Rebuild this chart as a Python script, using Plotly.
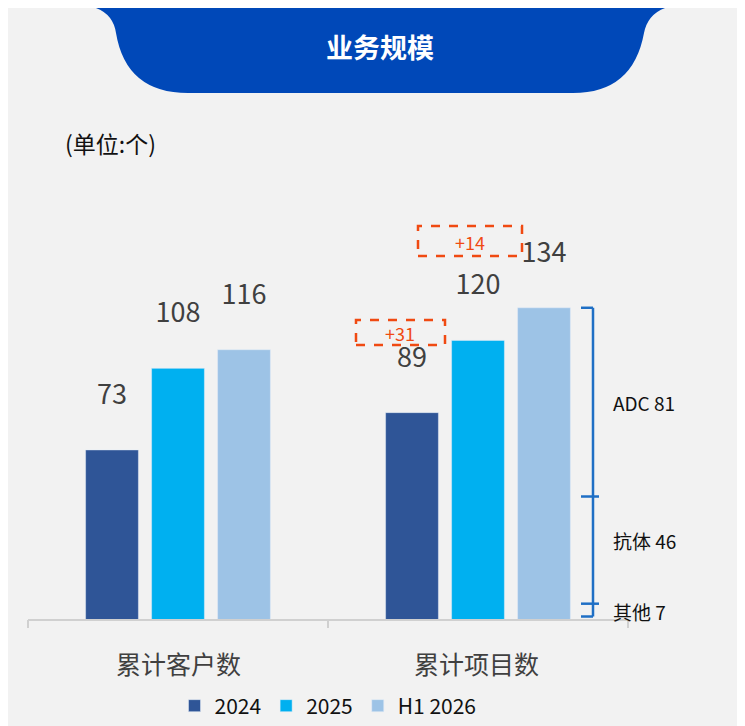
import plotly.graph_objects as go

categories = ["累计客户数", "累计项目数"]
series_names = ["2024", "2025", "H1 2026"]
series_values = [[73, 89], [108, 120], [116, 134]]
colors = ["#2f5597", "#00b0f0", "#9dc3e6"]
split_labels = ["ADC 81", "抗体 46", "其他 7"]
split_values = [81, 46, 7]
growth_labels = ["+31", "+14"]

W, H = 745, 726
L, R, T, B = 20, 125, 150, 114
PW, PH = W - L - R, H - T - B

def px(x):
    return (x - L) / PW

def py(y):
    return (H - B - y) / PH

fig = go.Figure()
for name, vals, c in zip(series_names, series_values, colors):
    fig.add_trace(go.Bar(
        x=categories, y=vals, name=name, marker_color=c,
        text=[f"{v}<br> " for v in vals], textposition="outside", cliponaxis=False,
        textfont=dict(size=27, color="#404040"),
    ))

shapes = []
# banner
banner = (f"M {px(85)},{py(-12)} L {px(85)},{py(-1)} Q {px(105)},{py(5)} {px(108)},{py(25)} "
          f"Q {px(118)},{py(85)} {px(180)},{py(85)} L {px(565)},{py(85)} "
          f"Q {px(625)},{py(85)} {px(636)},{py(25)} Q {px(640)},{py(5)} {px(660)},{py(-1)} "
          f"L {px(660)},{py(-12)} Z")
shapes.append(dict(type="path", xref="paper", yref="paper", path=banner, layer="below",
                   line=dict(width=0), fillcolor="#0048b8"))

# braces for project split
bx = px(585)
bounds = [134]
for v in split_values:
    bounds.append(bounds[-1] - v)
blue = "#1f6fc5"
shapes.append(dict(type="line", xref="paper", yref="y", x0=bx, x1=bx,
                   y0=bounds[0], y1=bounds[-1] + 1.5, line=dict(color=blue, width=2.5)))
for k, b in enumerate(bounds):
    yb = b + 1.5 if k == len(bounds) - 1 else b
    shapes.append(dict(type="line", xref="paper", yref="y", x0=bx - 0.02, x1=bx,
                       y0=yb, y1=yb, line=dict(color=blue, width=2.5)))
    if 0 < k < len(bounds) - 1:
        shapes.append(dict(type="line", xref="paper", yref="y", x0=bx, x1=bx + 0.01,
                           y0=b, y1=b, line=dict(color=blue, width=2.5)))

# dashed growth boxes
for (x0, y0, x1, y1) in [(348, 312, 437, 337), (410, 218, 514, 248)]:
    shapes.append(dict(type="rect", xref="paper", yref="paper",
                       x0=px(x0), x1=px(x1), y0=py(y1), y1=py(y0),
                       line=dict(color="#f04a12", width=2.5, dash="dash")))

# baseline and ticks
shapes.append(dict(type="line", xref="paper", yref="paper", x0=0, x1=1, y0=0, y1=0,
                   line=dict(color="#d0d0d0", width=2)))
for t in [0, 0.5, 1]:
    shapes.append(dict(type="line", xref="paper", yref="paper", x0=t, x1=t, y0=0,
                       y1=py(620), line=dict(color="#d0d0d0", width=2)))

ann = [
    dict(text="<b>业务规模</b>", x=px(372), y=py(38), font=dict(size=27, color="white")),
    dict(text="(单位:个)", x=px(55), y=py(135), xanchor="left", font=dict(size=23, color="#111")),
    dict(text=growth_labels[0], x=px(392), y=py(325), font=dict(size=18, color="#f04a12")),
    dict(text=growth_labels[1], x=px(462), y=py(234), font=dict(size=18, color="#f04a12")),
]
for cat, xc in zip(categories, [170, 468]):
    ann.append(dict(text=cat, x=px(xc), y=py(655), font=dict(size=25, color="#404040")))
mids = [(bounds[i] + bounds[i + 1]) / 2 for i in range(3)]
offs = [0, 4, 0]
for lab, m, o in zip(split_labels, mids, offs):
    ann.append(dict(text=lab, x=px(603), y=m + o, yref="y", xanchor="left",
                    font=dict(size=19, color="#111")))
for a in ann:
    a.setdefault("xref", "paper")
    a.setdefault("yref", "paper")
    a.setdefault("xanchor", "center")
    a["yanchor"] = "middle"
    a["showarrow"] = False

fig.update_layout(
    width=W, height=H, margin=dict(l=L, r=R, t=T, b=B, autoexpand=False),
    paper_bgcolor="#f2f2f2", plot_bgcolor="#f2f2f2",
    font=dict(family="Noto Sans CJK SC, Open Sans, sans-serif"),
    barmode="group", bargap=0.34, bargroupgap=0.2,
    yaxis=dict(range=[0, PH / 2.33], visible=False),
    xaxis=dict(showline=False, ticks="", showticklabels=False),
    legend=dict(orientation="h", x=0.5, xanchor="center", y=py(698), yanchor="middle",
                font=dict(size=21, color="#111"), traceorder="normal"),
    shapes=shapes, annotations=ann, showlegend=True,
)
fig.write_html("out.html")
